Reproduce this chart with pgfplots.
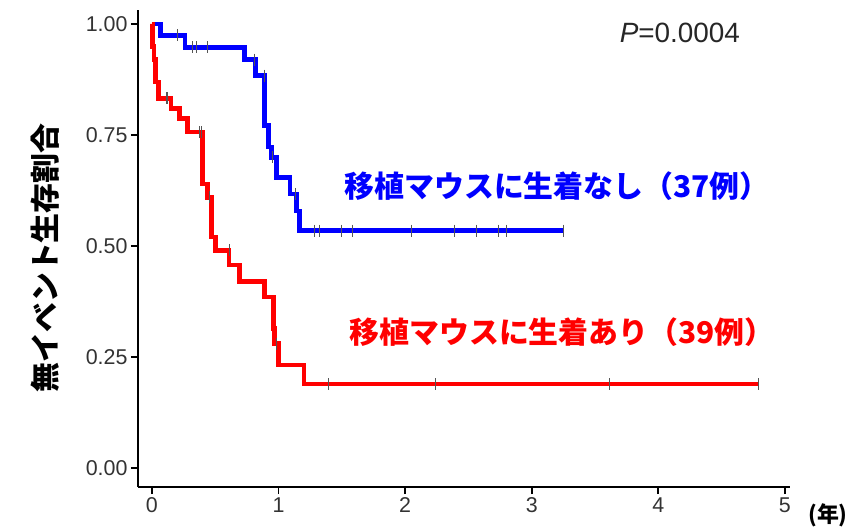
\documentclass[border=0pt]{standalone}
\usepackage{fontspec}
\setmainfont{Liberation Sans}
\newfontfamily\jp{Noto Sans CJK JP}
\usepackage{pgfplots}
\pgfplotsset{compat=1.18}
\definecolor{tickgray}{HTML}{333333}
\definecolor{censor}{HTML}{555555}
\begin{document}
\begin{tikzpicture}
\begin{axis}[
  scale only axis, width=652bp, height=477bp,
  at={(0,0)}, anchor=south west,
  xmin=-0.11, xmax=5.04, ymin=-0.043, ymax=1.032,
  axis lines=left, axis line style={-, line width=2bp, black},
  tick align=outside, major tick length=7bp,
  tick style={line width=1.8bp, black},
  xtick={0,1,2,3,4,5}, ytick={0,0.25,0.5,0.75,1},
  y tick label style={/pgf/number format/.cd, fixed, fixed zerofill, precision=2},
  /pgf/number format/assume math mode=true,
  ticklabel style={font=\fontsize{21.5}{21.5}\selectfont, text=tickgray},
  ylabel={\jp\bfseries 無イベント生存割合},
  every axis y label/.style={at={(rel axis cs:0,0.48)}, xshift=-93bp, rotate=90, anchor=center, font=\fontsize{30}{30}\selectfont},
  xlabel={\jp\bfseries (年)},
  every axis x label/.style={at={(rel axis cs:1,0)}, xshift=38bp, yshift=-28bp, anchor=center, font=\fontsize{22}{22}\selectfont},
  clip=false,
]
% censor marks
\addplot[only marks, mark=|, mark size=6bp, censor, line width=0.7bp] coordinates {
(0.2,0.975)(0.32,0.948)(0.35,0.948)(0.44,0.948)(0.81,0.92)(0.89,0.884)(0.95,0.70)(1.13,0.617)
(1.28,0.535)(1.32,0.535)(1.50,0.535)(1.58,0.535)(2.05,0.535)(2.39,0.535)(2.56,0.535)(2.74,0.535)(2.80,0.535)(3.25,0.535)};
\addplot[only marks, mark=|, mark size=6bp, censor, line width=0.7bp] coordinates {
(0.11,0.833)(0.12,0.833)(0.375,0.757)(0.39,0.757)(0.45,0.61)(0.61,0.49)(0.98,0.28)
(1.39,0.189)(2.24,0.189)(3.61,0.189)(4.79,0.189)};
% blue curve
\addplot[const plot, blue, line width=4.6bp] coordinates {
(0,1.0)(0.07,0.975)(0.26,0.948)(0.73,0.920)(0.82,0.884)(0.89,0.772)(0.92,0.723)(0.945,0.700)
(0.985,0.655)(1.09,0.617)(1.14,0.579)(1.165,0.535)(3.25,0.535)};
% red curve
\addplot[const plot, red, line width=4.6bp] coordinates {
(0,1.0)(0.005,0.95)(0.015,0.92)(0.03,0.87)(0.05,0.833)(0.15,0.81)(0.22,0.787)(0.28,0.757)
(0.40,0.64)(0.44,0.61)(0.47,0.52)(0.50,0.49)(0.61,0.457)(0.69,0.42)(0.89,0.385)(0.96,0.314)
(0.97,0.28)(1.0,0.232)(1.2,0.189)(4.79,0.189)};
\node[text=blue, font=\jp\bfseries\fontsize{30}{30}\selectfont] at (axis cs:3.2,0.636) {移植マウスに生着なし（37例）};
\node[text=red, font=\jp\bfseries\fontsize{30}{30}\selectfont] at (axis cs:3.24,0.307) {移植マウスに生着あり（39例）};
\node[text=black!85, font=\fontsize{28}{28}\selectfont] at (axis cs:4.17,0.98) {\textit{P}=0.0004};
\end{axis}
\pgfresetboundingbox
\path[use as bounding box] (-138bp,-43bp) rectangle (715bp,487bp);
\end{tikzpicture}
\end{document}
